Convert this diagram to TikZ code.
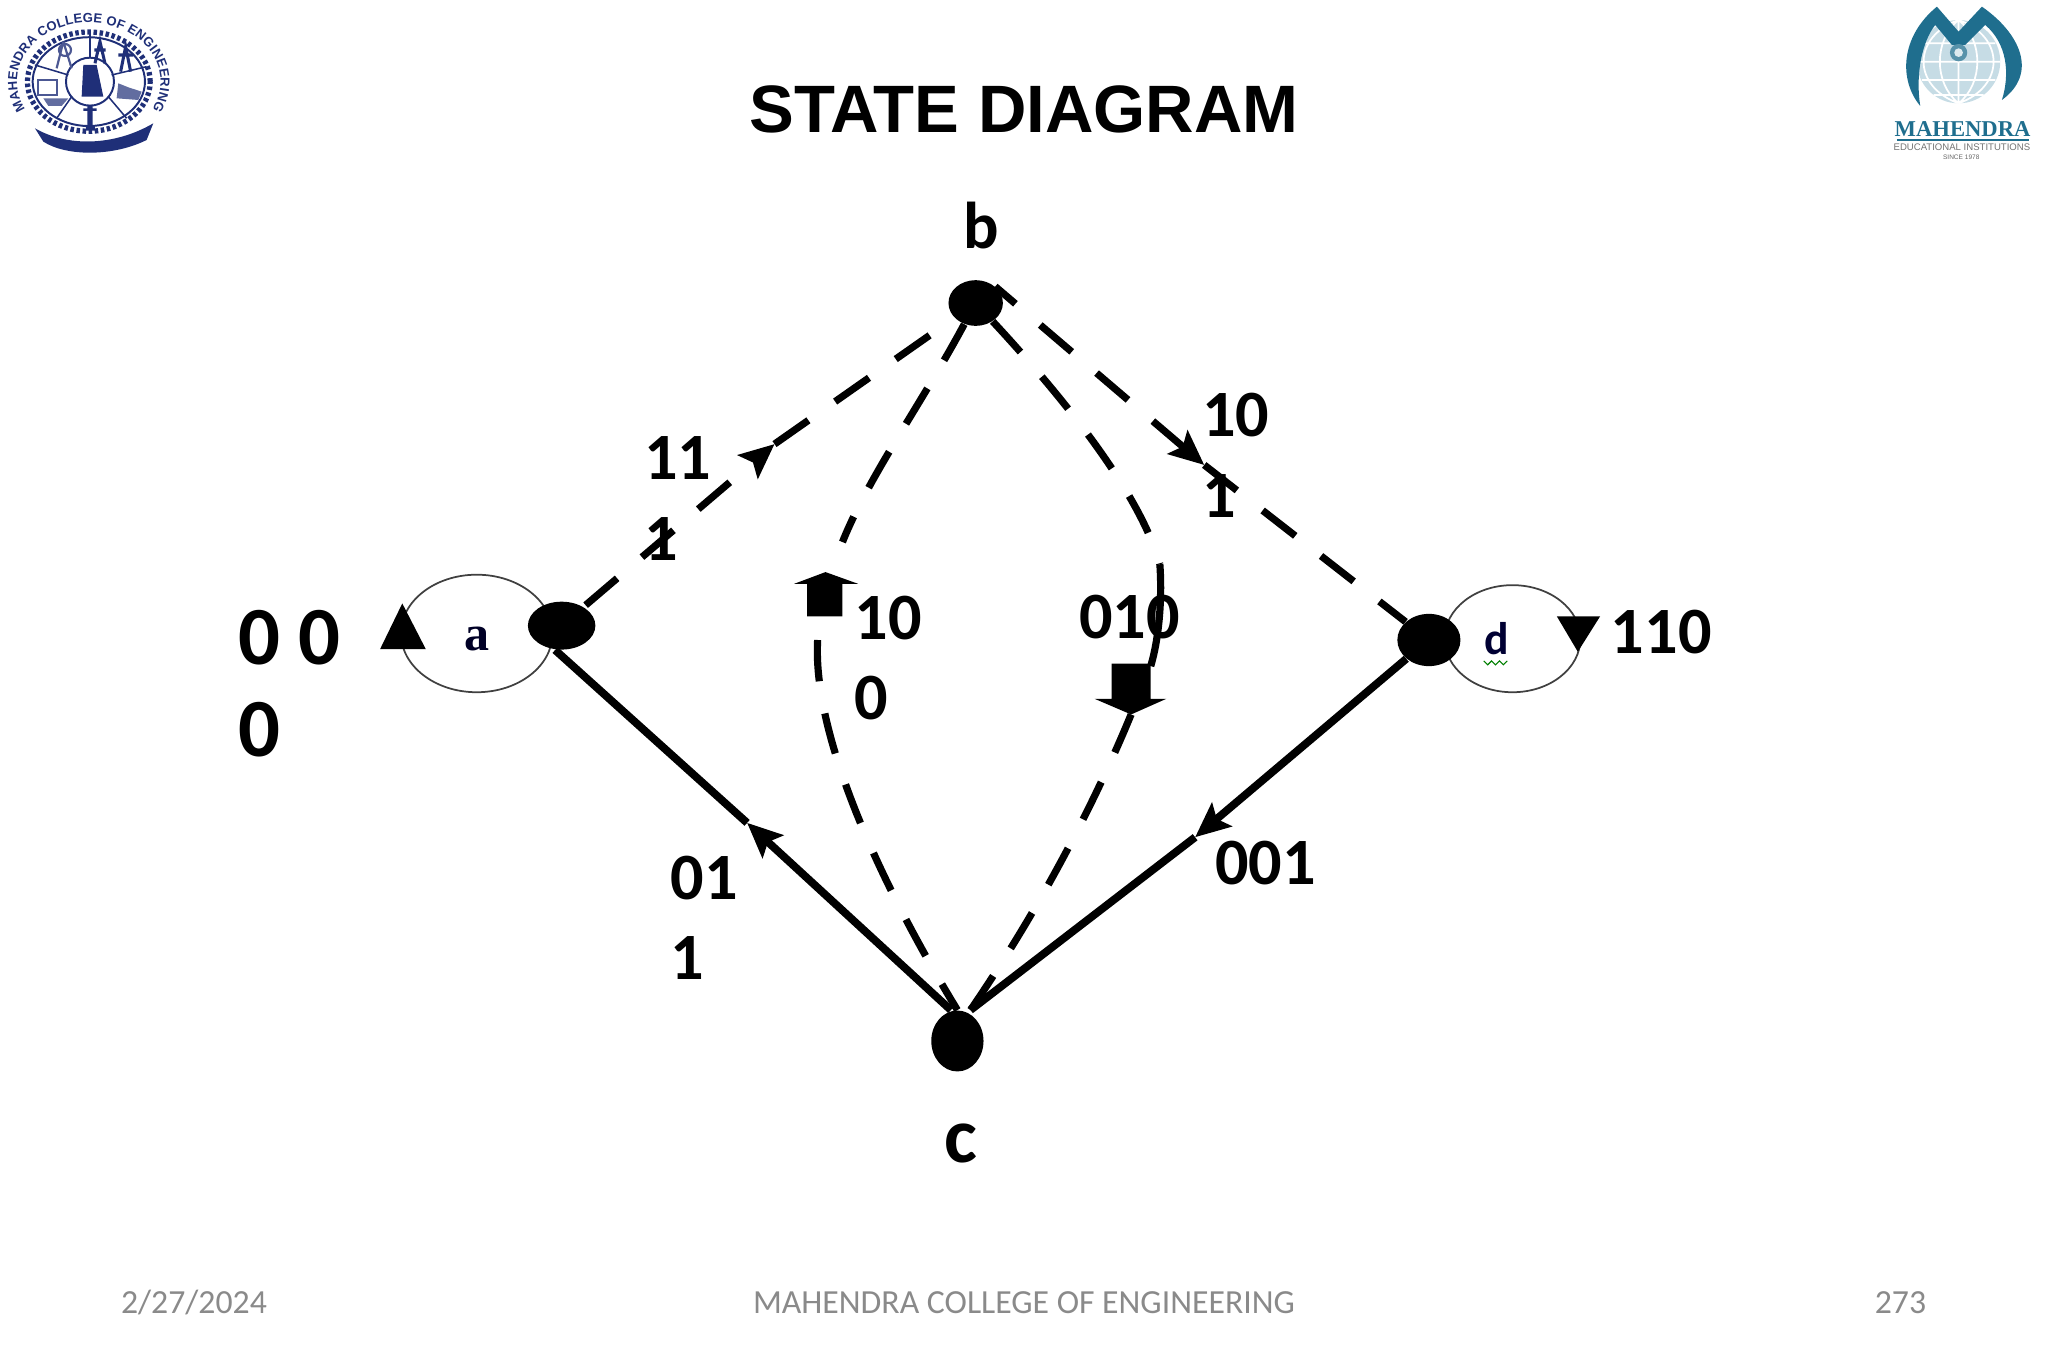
\documentclass[tikz,border=0pt]{standalone}
\usepackage{fontspec}
\setmainfont{Carlito}
\newfontfamily\arialf{Liberation Sans}
\newfontfamily\timesf{Liberation Serif}
\usetikzlibrary{arrows.meta,shapes.geometric,decorations.text}
\definecolor{navy}{HTML}{1F2F78}
\definecolor{teal}{HTML}{1F6E8E}
\definecolor{globe}{HTML}{C6DCE5}
\definecolor{foot}{HTML}{8A8A8A}
\tikzset{
 stateDot/.style={ellipse,fill=black,inner sep=0pt},
 loopRing/.style={ellipse,draw=black!75,line width=0.8pt,inner sep=0pt,fill=white},
 dashln/.style={line width=3.3pt,black,dash pattern=on 19pt off 15pt},
 solidln/.style={line width=3.6pt,black},
 tipend/.style={-{Stealth[length=16pt,width=14pt,inset=3pt]}},
 tipstart/.style={{Stealth[length=16pt,width=14pt,inset=3pt]}-},
 lbl/.style={inner sep=0pt,anchor=base west,font=\fontsize{30.4}{37}\selectfont\bfseries},
 lbltwo/.style={inner sep=0pt,anchor=north west,align=left,font=\fontsize{30.4}{37}\selectfont\bfseries},
 footer/.style={inner sep=0pt,text=foot,font=\fontsize{15.5}{18}\selectfont},
}
\begin{document}
\begin{tikzpicture}[x=0.6pt,y=-0.6pt]
\useasboundingbox (0,0) rectangle (1568,1045);
% left logo
\begin{scope}[shift={(68,62.5)},x=0.6pt,y=0.6pt]
\path[decorate,decoration={text along path,text align=fit to path,
  text={|\arialf\bfseries\fontsize{6}{7}\selectfont\color{navy}|MAHENDRA COLLEGE OF ENGINEERING}}]
  (208:55 and 45) arc[start angle=208,end angle=-28,x radius=55,y radius=45];
\draw[navy,line width=2.4pt,dash pattern=on 1.6pt off 1.2pt] (0,0) ellipse[x radius=47,y radius=38];
\draw[navy,line width=0.9pt] (0,0) ellipse[x radius=43,y radius=34];
\end{scope}
\begin{scope}[x=0.1531pt,y=-0.1531pt]
\draw[navy,line width=0.7pt] (270,175)--(270,100) (205,225)--(105,195) (335,225)--(440,200)
 (215,290)--(170,355) (325,290)--(380,355);
\draw[navy,line width=0.9pt] (270,245) circle[radius=72];
\fill[navy] (250,195) -- (290,195) -- (310,290) -- (245,290) -- cycle;
\fill[navy] (262,315) rectangle (278,385) (250,325) rectangle (290,333) (258,380) rectangle (285,392);
\draw[navy!80,line width=1pt] (195,150) circle[radius=18] (170,205) -- (190,125) (190,125)--(215,205);
\draw[navy,line width=1.4pt] (285,190)--(300,125)--(315,190) (283,150)--(317,150)
 (362,215)--(377,140)--(392,215) (355,165)--(400,165);
\draw[navy!80,line width=0.9pt] (115,240) rectangle (170,285);
\fill[navy!70] (130,295) -- (205,295) -- (185,318) -- (145,318) -- cycle;
\fill[navy!70] (355,250) -- (385,262) -- (425,275) -- (415,300) -- (350,295) -- cycle;
\fill[navy] (105,385) .. controls (200,440) and (340,440) .. (460,370) -- (440,420) .. controls (340,470) and (200,470) .. (130,425) -- cycle;
\end{scope}
% right logo
\begin{scope}[shift={(1431.9,0)},x=0.1531pt,y=-0.1531pt]
\fill[globe] (265,185) circle[radius=125];
\draw[white,line width=0.8pt] (140,185)--(390,185) (155,130)--(375,130) (155,240)--(375,240) (190,285)--(340,285)
 (265,60)--(265,310) (265,60) .. controls (190,120) and (190,250) .. (265,310)
 (265,60) .. controls (340,120) and (340,250) .. (265,310)
 (265,60) .. controls (125,110) and (125,260) .. (265,310)
 (265,60) .. controls (405,110) and (405,260) .. (265,310);
\fill[teal] (150,318) .. controls (85,240) and (90,110) .. (200,20) -- (265,95) -- (335,20)
 .. controls (450,100) and (505,220) .. (395,300) .. controls (420,220) and (410,130) .. (345,75)
 -- (285,135) -- (245,135) -- (195,75) .. controls (155,125) and (135,225) .. (150,318) -- cycle;
\fill[teal!75] (265,158) circle[radius=26];
\fill[globe!60] (265,158) circle[radius=13];
\node[inner sep=0pt,text=teal,font=\timesf\bfseries\fontsize{10.4}{12}\selectfont] (brand) at (277,388) {MAHENDRA};
\draw[teal,line width=0.5pt] (80,420)--(475,420);
\node[inner sep=0pt,text=black!55,font=\arialf\fontsize{4.4}{5}\selectfont] (edu) at (275,441) {EDUCATIONAL INSTITUTIONS};
\node[inner sep=0pt,text=black!60,font=\arialf\fontsize{3}{4}\selectfont] (since) at (273,472) {SINCE 1978};
\end{scope}
% title
\node[inner sep=0pt,font=\arialf\bfseries\fontsize{30.8}{36}\selectfont] (title) at (784,84) {STATE DIAGRAM};
% loops
\node[loopRing,minimum width=69.6pt,minimum height=54pt] (aloop) at (365,485) {};
\node[loopRing,minimum width=62.4pt,minimum height=49.2pt] (dloop) at (1158,489) {};
% state dots
\node[stateDot,minimum width=31pt,minimum height=22pt] (a) at (430,479) {};
\node[stateDot,minimum width=25pt,minimum height=21pt] (b) at (747,232) {};
\node[stateDot,minimum width=24pt,minimum height=28pt] (c) at (733,797) {};
\node[stateDot,minimum width=29pt,minimum height=24pt] (d) at (1094,490) {};
\coordinate (t1) at (593,340);
\coordinate (t2) at (922,356);
\coordinate (t3) at (572,630);
\coordinate (t4) at (915,641);
\coordinate (hlt) at (645,415);
\coordinate (hlb) at (626,490);
\coordinate (hrt) at (888,432);
\coordinate (hrm) at (881,510);
\coordinate (hrb) at (866,547);
% connectors
\draw[dashln,tipstart,dash phase=19pt] (t1) -- (a);
\draw[dashln] (t1) -- (b);
\draw[dashln,tipstart] (t2) -- (b.north east);
\draw[dashln] (t2) -- (d);
\draw[dashln] (b) .. controls (705,310) and (665,365) .. (hlt);
\draw[dashln] (hlb) .. controls (622,560) and (670,670) .. (c.north);
\draw[dashln] (b) .. controls (810,300) and (872,375) .. (hrt);
\draw[dashln,dash pattern=on 40pt off 0pt] (hrt) .. controls (890,460) and (887,490) .. (hrm);
\draw[dashln] (hrb) .. controls (840,610) and (800,690) .. ([xshift=6pt]c.north);
\draw[solidln,tipend] ([xshift=-3pt]c.north) -- (t3);
\draw[solidln] ([xshift=-3pt]a.south) -- (t3);
\draw[solidln,tipend] (d.south west) -- (t4);
\draw[solidln] ([xshift=6pt]c.north) -- (t4);
% block arrows
\fill (632,438) -- (657,447) -- (645,447) -- (645,472) -- (618,472) -- (618,447) -- (608,447) -- cycle;
\fill (866,547) -- (893,535) -- (881,535) -- (881,508) -- (851,508) -- (851,535) -- (838,535) -- cycle;
% loop arrowheads
\fill (308,462) -- (326,497) -- (291,497) -- cycle;
\fill (1192,472) -- (1225,472) -- (1208,499) -- cycle;
% labels
\node[lbl] (lb) at (737,190) {b};
\node[lbl,font=\fontsize{36}{40}\selectfont\bfseries] (lc) at (723,890) {c};
\node[inner sep=0pt,font=\timesf\bfseries\fontsize{23}{26}\selectfont,text=black!85!blue] (la) at (365,489) {a};
\node[inner sep=0pt,font=\bfseries\fontsize{21}{24}\selectfont,text=black!80!blue] (ld) at (1146,489) {d};
\draw[green!50!black,line width=0.5pt] (1136,506) -- ++(3,3) -- ++(3,-3) -- ++(3,3) -- ++(3,-3) -- ++(3,3) -- ++(3,-3);
\node[inner sep=0pt,anchor=north west,align=left,font=\fontsize{38}{42}\selectfont\bfseries] (l000) at (182,467) {0 0\\0};
\node[lbltwo] (l111) at (493,334) {11\\1};
\node[lbltwo] (l101) at (920,301) {10\\1};
\node[lbltwo] (l100) at (654,456) {10\\0};
\node[lbl] (l010) at (826,489) {010};
\node[lbl] (l110) at (1233,500) {110};
\node[lbltwo] (l011) at (513,655) {01\\1};
\node[lbl] (l001) at (930,677) {001};
% footer
\node[footer] (fdate) at (148.5,997) {2/27/2024};
\node[footer] (fname) at (784,997) {MAHENDRA COLLEGE OF ENGINEERING};
\node[footer] (fpage) at (1455,997) {273};
\end{tikzpicture}
\end{document}
